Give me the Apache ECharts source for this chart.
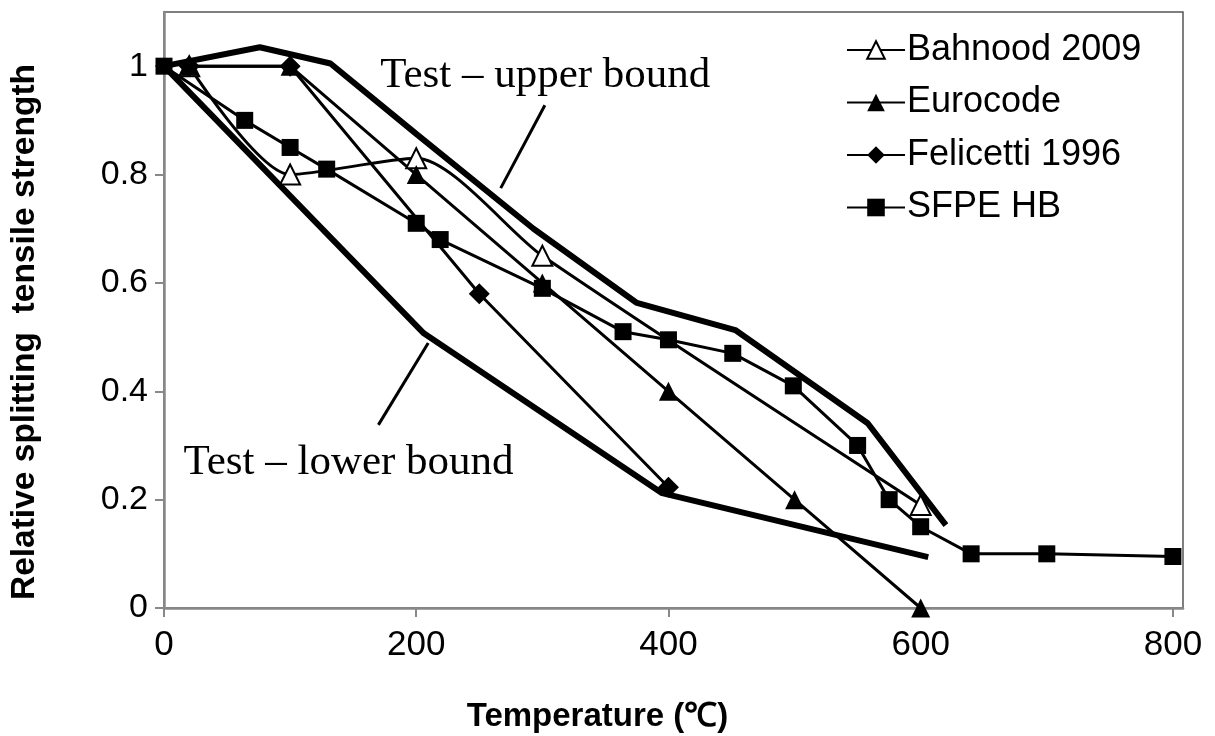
<!DOCTYPE html>
<html>
<head>
<meta charset="utf-8">
<script src="https://cdn.jsdelivr.net/npm/echarts@6/dist/echarts.min.js"></script>
<style>
html,body{margin:0;padding:0;background:#fff;}
#chart{width:1215px;height:736px;}
</style>
</head>
<body>
<div id="chart"></div>
<script>
// ---- data (temperature °C, relative strength) ----
const xTicks = [0, 200, 400, 600, 800];
const yTicks = [0, 0.2, 0.4, 0.6, 0.8, 1];
const seriesNames = ['Bahnood 2009', 'Eurocode', 'Felicetti 1996', 'SFPE HB'];

const bahnood = [[20, 1.0], [100, 0.80], [200, 0.83], [300, 0.65], [600, 0.19]];
const eurocode = [[20, 1.0], [100, 1.0], [200, 0.8], [300, 0.6], [400, 0.4], [500, 0.2], [600, 0.0]];
const felicetti = [[20, 1.0], [100, 1.0], [250, 0.58], [400, 0.223]];
const sfpe = [[0, 1.0], [64, 0.90], [100, 0.85], [129, 0.81], [200, 0.71], [219, 0.68], [300, 0.59],
  [364, 0.51], [400, 0.495], [451, 0.47], [499, 0.41], [550, 0.30], [575, 0.20], [600, 0.15],
  [640, 0.10], [700, 0.10], [800, 0.095]];
const upperBound = [[0, 1.0], [76, 1.035], [132, 1.005], [200, 0.875], [293, 0.70], [375, 0.563],
  [453, 0.513], [558, 0.341], [620, 0.153]];
const lowerBound = [[0, 1.0], [206, 0.507], [395, 0.212], [606, 0.094]];

const upperLabel = 'Test – upper bound';
const lowerLabel = 'Test – lower bound';
const upperArrow = [[302, 0.928], [267, 0.775]];
const lowerArrow = [[170, 0.338], [209.5, 0.489]];
const upperLabelAt = [171, 0.983];
const lowerLabelAt = [15, 0.269];

const SANS = '"Liberation Sans", Arial, sans-serif';
const SERIF = '"Liberation Serif", "Times New Roman", serif';

const chart = echarts.init(document.getElementById('chart'), null, {renderer: 'canvas'});

function dataLine(name, data, symbol, size, fill) {
  return {
    name, type: 'line', data, symbol, symbolSize: size,
    showAllSymbol: true,
    lineStyle: {color: '#000', width: 3},
    itemStyle: {color: fill, borderColor: '#000', borderWidth: fill === '#fff' ? 2 : 0},
    emphasis: {disabled: true},
    z: 3
  };
}

const option = {
  animation: false,
  backgroundColor: '#fff',
  grid: {left: 164, right: 32, top: 12, bottom: 128, show: true, borderColor: '#555', borderWidth: 1.5,
    outerBoundsMode: 'none', containLabel: false},
  legend: {
    data: seriesNames,
    orient: 'vertical',
    left: 846, top: 32,
    itemWidth: 58, itemHeight: 22, itemGap: 16.5,
    padding: 0,
    textStyle: {fontFamily: SANS, fontSize: 36, color: '#000', padding: [0, 0, 0, -3]}
  },
  xAxis: {
    type: 'value', min: 0, max: 808,
    name: 'Temperature (℃)', nameLocation: 'middle', nameGap: 92,
    nameTextStyle: {fontFamily: SANS, fontSize: 33, fontWeight: 'bold', color: '#000', padding: [0, 152, 0, 0]},
    axisLine: {show: true, lineStyle: {color: '#888', width: 2.5}},
    axisTick: {show: true, length: 9, lineStyle: {color: '#888', width: 2}, customValues: xTicks},
    axisLabel: {fontFamily: SANS, fontSize: 35, color: '#000', margin: 20, customValues: xTicks},
    splitLine: {show: false}
  },
  yAxis: {
    type: 'value', min: 0, max: 1.1,
    name: 'Relative splitting  tensile strength', nameLocation: 'middle', nameGap: 122,
    nameTextStyle: {fontFamily: SANS, fontSize: 33.5, fontWeight: 'bold', color: '#000', padding: [0, 44, 0, 0]},
    axisLine: {show: true, lineStyle: {color: '#888', width: 2.5}},
    axisTick: {show: true, length: 9, lineStyle: {color: '#888', width: 2}, customValues: yTicks},
    axisLabel: {fontFamily: SANS, fontSize: 34, color: '#000', margin: 16, customValues: yTicks},
    splitLine: {show: false}
  },
  series: [
    {
      name: upperLabel, type: 'line', data: upperBound, symbol: 'none',
      lineStyle: {color: '#000', width: 6}, emphasis: {disabled: true}, z: 2,
      markLine: {
        silent: true, symbol: ['none', 'arrow'], symbolSize: [0, 18],
        lineStyle: {color: '#000', width: 3, type: 'solid'},
        label: {show: false},
        data: [[{coord: upperArrow[0]}, {coord: upperArrow[1]}], [{coord: lowerArrow[0]}, {coord: lowerArrow[1]}]]
      },
      markPoint: {
        silent: true, symbol: 'rect', symbolSize: 1, itemStyle: {color: 'rgba(0,0,0,0)'},
        label: {show: true, position: 'right', distance: 0, formatter: '{b}', fontFamily: SERIF, fontSize: 43, color: '#000'},
        data: [{name: upperLabel, coord: upperLabelAt}, {name: lowerLabel, coord: lowerLabelAt}]
      }
    },
    {
      name: lowerLabel, type: 'line', data: lowerBound, symbol: 'none',
      lineStyle: {color: '#000', width: 6}, emphasis: {disabled: true}, z: 2
    },
    Object.assign(dataLine('Bahnood 2009', bahnood, 'triangle', 20, '#fff'), {smooth: 0.25}),
    dataLine('Felicetti 1996', felicetti, 'diamond', 21, '#000'),
    dataLine('SFPE HB', sfpe, 'rect', 17, '#000'),
    dataLine('Eurocode', eurocode, 'triangle', 19, '#000')
  ]
};
chart.setOption(option);
</script>
</body>
</html>
